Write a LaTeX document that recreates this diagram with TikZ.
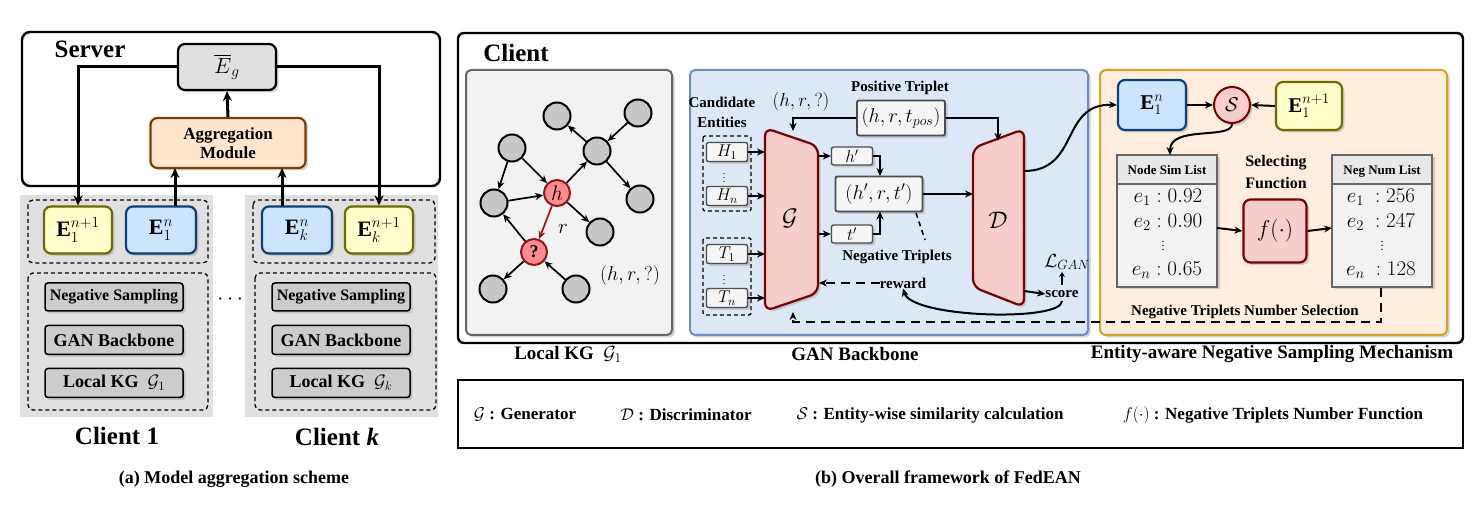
\RequirePackage{fix-cm}
\documentclass[tikz,border=0pt]{standalone}
\usepackage{fontspec}
\setmainfont{Liberation Serif}
\usepackage{amsmath,amssymb}
\usetikzlibrary{shadows,arrows.meta,calc}
\definecolor{ygf}{HTML}{FFFFCC}\definecolor{ygd}{HTML}{6B6B00}
\definecolor{blf}{HTML}{CCE5FF}\definecolor{bld}{HTML}{0E3E78}
\definecolor{rdf}{HTML}{F8CECC}\definecolor{rdd}{HTML}{7A0000}
\definecolor{orf}{HTML}{FFE6CC}\definecolor{ord}{HTML}{7A3D00}
\definecolor{gbf}{HTML}{DDE8F7}\definecolor{gbd}{HTML}{6C8EBF}
\definecolor{esf}{HTML}{FFEEDD}\definecolor{esd}{HTML}{D6A21E}
\newcommand{\fs}[1]{\fontsize{#1}{#1}\selectfont}
\tikzset{
 every node/.style={inner sep=0pt},
 sh/.style={drop shadow={shadow xshift=2.5pt,shadow yshift=-2.5pt,fill=black!30,opacity=0.6}},
 rb/.style={draw,rounded corners=7pt,line width=2.2pt,sh},
 yb/.style={rb,fill=ygf,draw=ygd},
 bb/.style={rb,fill=blf,draw=bld},
 gb/.style={draw,rounded corners=3pt,line width=1.5pt,fill=black!20,sh,font=\bfseries\fs{16}},
 sb/.style={draw=black!70,rounded corners=2pt,line width=1.4pt,fill=black!4,sh},
 ar/.style={-{Stealth[length=8pt,width=7pt]},line width=2pt},
 tar/.style={-{Stealth[length=10pt,width=9pt]},line width=3pt},
 gn/.style={circle,draw,line width=2pt,fill=black!22,minimum size=27pt},
 rn/.style={circle,draw=rdd!90,line width=2pt,fill=red!45,minimum size=27pt},
 dbox/.style={draw,dash pattern=on 4pt off 3pt,rounded corners=5pt,line width=1.3pt},
 thd/.style={dash pattern=on 9pt off 6pt},
}
\begin{document}
\begin{tikzpicture}[x=1pt,y=-1pt]
\useasboundingbox (0,0) rectangle (1476,510);
% ---------- (a) ----------
\draw[line width=2.4pt,rounded corners=8pt] (22,32) rectangle (440,186);
\node[font=\bfseries\fs{25}] (srv) at (90,49) {Server};
\fill[black!12] (20,195) rectangle (213,417);
\fill[black!12] (245,195) rectangle (438,417);
\node[rb,fill=black!12,draw=black,minimum width=98pt,minimum height=46pt,font=\fs{22}] (eg) at (227,67) {$\overline{E}_g$};
\node[rb,fill=orf,draw=ord,minimum width=155pt,minimum height=50pt,align=center,font=\bfseries\fs{17}] (agg) at (228,143) {Aggregation\\[2pt]Module};
\draw[tar] (agg.north) -- (eg.south);
\draw[dbox] (28,200) rectangle (208,263);
\draw[dbox] (28,273) rectangle (208,410);
\draw[dbox] (253,200) rectangle (435,263);
\draw[dbox] (255,273) rectangle (436,410);
\node[yb,minimum width=68pt,minimum height=47pt,font=\fs{22}] (e1a) at (78,230) {$\mathbf{E}_1^{n+1}$};
\node[bb,minimum width=70pt,minimum height=47pt,font=\fs{22}] (e1b) at (161,230) {$\mathbf{E}_1^{n}$};
\node[bb,minimum width=70pt,minimum height=47pt,font=\fs{22}] (ekb) at (297,230) {$\mathbf{E}_k^{n}$};
\node[yb,minimum width=68pt,minimum height=47pt,font=\fs{22}] (eka) at (379,230) {$\mathbf{E}_k^{n+1}$};
\draw[tar] (eg.west) -| (e1a.north);
\draw[tar] (eg.east) -| (eka.north);
\draw[tar] (175,206.5) -- (175,168);
\draw[tar] (282,206.5) -- (282,168);
\foreach \x/\s/\g in {114/1/a,341/k/b}{
 \node[gb,minimum width=138pt,minimum height=28pt] (ns\g) at (\x,297) {Negative Sampling};
 \node[gb,minimum width=138pt,minimum height=29pt,font=\bfseries\fs{18}] (gan\g) at (\x,340) {GAN Backbone};
 \node[gb,minimum width=138pt,minimum height=29pt,font=\bfseries\fs{18}] (lkg\g) at (\x,383) {Local KG \ $\mathcal{G}_\s$};
}
\node[font=\bfseries\fs{22}] (dots) at (232,300) {$\cdots$};
\node[font=\bfseries\fs{25}] (c1) at (117,436) {Client 1};
\node[font=\bfseries\fs{25}] (ck) at (337,437) {Client \textit{k}};
\node[font=\bfseries\fs{18}] (capa) at (234,479) {(a) Model aggregation scheme};
% ---------- (b) ----------
\draw[line width=2.4pt,rounded corners=6pt] (458,33) rectangle (1463,343);
\node[font=\bfseries\fs{25}] (cl) at (516,53) {Client};
\draw[rounded corners=5pt,line width=2pt,draw=black!60,fill=black!5,sh] (466,70) rectangle (672,335);
\node[font=\bfseries\fs{19}] (lkgl) at (568,354) {Local KG \ $\mathcal{G}_1$};
% graph
\node[gn] (a1) at (557,116) {};
\node[gn] (a2) at (638,113) {};
\node[gn] (a3) at (512,148) {};
\node[gn] (a4) at (597,151) {};
\node[rn,minimum size=26pt,font=\fs{21}] (h) at (557,193) {$h$};
\node[gn] (a5) at (494,203) {};
\node[gn] (a6) at (640,199) {};
\node[gn] (a7) at (600,232) {};
\node[rn,minimum size=26pt,font=\bfseries\fs{18}] (q) at (534,252) {?};
\node[gn] (a8) at (493,289) {};
\node[gn] (a9) at (576,289) {};
\begin{scope}[ar,line width=1.7pt]
\draw (a4) -- (a1); \draw (a2) -- (a4); \draw (a3) -- (h); \draw (a3) -- (a5);
\draw (a5) -- (h); \draw (h) -- (a4); \draw (a4) -- (a6); \draw (h) -- (a7);
\draw[rdd!90] (h) -- (q); \draw (q) -- (a5); \draw (q) -- (a8); \draw (a9) -- (q);
\end{scope}
\node[font=\fs{21}] (rl) at (563,229) {$r$};
\node[font=\fs{20}] (hrq1) at (630,276) {$(h,r,?)$};
% GAN backbone
\draw[rounded corners=5pt,line width=2pt,draw=gbd,fill=gbf,sh] (690,70) rectangle (1088,335);
\node[font=\bfseries\fs{19}] (ganl) at (855,354) {GAN Backbone};
\node[font=\bfseries\fs{15}] (cand1) at (722,102) {Candidate};
\node[font=\bfseries\fs{15}] (cand2) at (722,122) {Entities};
\node[font=\fs{19}] (hrq2) at (801,102) {$(h,r,?)$};
\node[font=\bfseries\fs{15}] (post) at (900,88) {Positive Triplet};
\node[sb,line width=1.9pt,minimum width=88pt,minimum height=35pt,font=\fs{20}] (pos) at (901,118) {$(h,r,t_{pos})$};
\draw[dbox,rounded corners=2pt] (703,136) rectangle (751,211);
\draw[dbox,rounded corners=2pt] (703,238) rectangle (751,315);
\node[sb,minimum width=41pt,minimum height=19pt,font=\fs{17}] (H1) at (727,152) {$H_1$};
\node[sb,minimum width=41pt,minimum height=19pt,font=\fs{17}] (Hn) at (727,196) {$H_n$};
\node[sb,minimum width=41pt,minimum height=19pt,font=\fs{17}] (T1) at (727,254) {$T_1$};
\node[sb,minimum width=41pt,minimum height=19pt,font=\fs{17}] (Tn) at (727,298) {$T_n$};
\node[font=\fs{10}] (vd1) at (724,175) {$\vdots$};
\node[font=\fs{10}] (vd2) at (724,277) {$\vdots$};
% Generator
\draw[line width=2.2pt,draw=rdd,fill=rdf,rounded corners=8pt,sh] (765,128) -- (818,146) -- (818,293) -- (765,311) -- cycle;
\node[font=\fs{24}] (G) at (790,218) {$\mathcal{G}$};
\foreach \n/\y in {H1/152,Hn/196,T1/254,Tn/298}{\draw[ar] (\n.east) -- (765,\y);}
\node[sb,minimum width=41pt,minimum height=18pt,font=\fs{17}] (hp) at (852,156) {$h'$};
\node[sb,minimum width=41pt,minimum height=18pt,font=\fs{17}] (tp) at (852,234) {$t'$};
\draw[ar] (818,156) -- (hp.west);
\draw[ar] (818,234) -- (tp.west);
\node[sb,line width=1.9pt,minimum width=87pt,minimum height=35pt,font=\fs{20}] (neg) at (879,194) {$(h',r,t')$};
\draw[ar] (hp.east) -| (880,176);
\draw[ar] (tp.east) -| (880,211.5);
\node[font=\bfseries\fs{15}] (negt) at (897,257) {Negative Triplets};
\draw[dash pattern=on 5pt off 4pt,line width=1.6pt] (916,213) -- (925,240);
% Discriminator
\draw[line width=2.2pt,draw=rdd,fill=rdf,rounded corners=8pt,sh] (973,148) -- (1024,129) -- (1024,307) -- (973,287) -- cycle;
\node[font=\fs{24}] (D) at (998,220) {$\mathcal{D}$};
\draw[ar] (neg.east) -- (973,194);
\draw[ar] (pos.east) -| (998,141);
\draw[ar] (pos.west) -| (793,131);
\node[font=\bfseries\fs{15}] (score) at (1062,294) {score};
\node[font=\fs{19}] (lgan) at (1067,262) {$\mathcal{L}_{GAN}$};
\draw[-{Stealth[length=5pt,width=6pt]},line width=2.4pt] (1062,285) -- (1062,272);
\draw[ar] (1024,291) -- (score.west);
\node[font=\bfseries\fs{15}] (rew) at (903,283) {reward};
\draw[ar,thd] (rew.west) -- (819,283);
\draw[ar] (1062,301) .. controls (1062,322) and (912,318) .. (rew.south);
% E-aware
\draw[rounded corners=6pt,line width=2pt,draw=esd,fill=esf,sh] (1100,70) rectangle (1447,335);
\node[font=\bfseries\fs{19}] (esl) at (1272,354) {Entity-aware Negative Sampling Mechanism};
\node[bb,minimum width=68pt,minimum height=50pt,font=\fs{21}] (E1n) at (1152,105) {$\mathbf{E}_1^{n}$};
\node[circle,draw=rdd,line width=2pt,fill=rdf,minimum size=36pt,font=\fs{20},sh] (S) at (1232,105) {$\mathcal{S}$};
\node[yb,minimum width=66pt,minimum height=48pt,font=\fs{21}] (E1a) at (1309,106) {$\mathbf{E}_1^{n+1}$};
\draw[ar] (E1n.east) -- (S.west);
\draw[ar] (E1a.west) -- (S.east);
\draw[ar] (1024,171) .. controls (1080,171) and (1060,103) .. (E1n.west);
% tables
\draw[line width=1.4pt,draw=black!60,fill=black!5,sh] (1117,155) rectangle (1217,287);
\draw[line width=1.4pt,draw=black!60,fill=black!9] (1117,155) rectangle (1217,184);
\node[font=\bfseries\fs{13}] (nsl) at (1167,170) {Node Sim List};
\node[font=\fs{21}] (s1) at (1168,197) {$e_1:0.92$};
\node[font=\fs{21}] (s2) at (1168,222) {$e_2:0.90$};
\node[font=\fs{12}] (s3) at (1163,243) {$\vdots$};
\node[font=\fs{21}] (s4) at (1167,270) {$e_n:0.65$};
\coordinate (simtop) at (1170,155);
\draw[ar] (S.south) .. controls (1232,140) and (1170,125) .. (simtop);
\draw[line width=1.4pt,draw=black!60,fill=black!5,sh] (1332,155) rectangle (1432,287);
\draw[line width=1.4pt,draw=black!60,fill=black!9] (1332,155) rectangle (1432,184);
\node[font=\bfseries\fs{13}] (nnl) at (1382,171) {Neg Num List};
\node[font=\fs{21}] (n1) at (1381,197) {$e_1\ :256$};
\node[font=\fs{21}] (n2) at (1381,222) {$e_2\ :247$};
\node[font=\fs{12}] (n3) at (1382,243) {$\vdots$};
\node[font=\fs{21}] (n4) at (1381,270) {$e_n\ :128$};
\node[font=\bfseries\fs{16}] (self1) at (1276,163) {Selecting};
\node[font=\bfseries\fs{16}] (self2) at (1276,183) {Function};
\node[draw=rdd,line width=2.2pt,fill=rdf,rounded corners=7pt,minimum width=63pt,minimum height=63pt,font=\fs{23},sh] (f) at (1275,231) {$f(\cdot)$};
\draw[ar] (1217,228) -- (f.west);
\draw[ar] (f.east) -- (1332,228);
\node[font=\bfseries\fs{15}] (ntns) at (1245,312) {Negative Triplets Number Selection};
\draw[ar,thd] (1381,288) -- (1381,322) -- (793,322) -- (793,312);
% legend
\draw[line width=2.2pt] (458,380) rectangle (1463,448);
\node[font=\bfseries\fs{17}] (l1) at (525,415) {$\mathcal{G}$ : Generator};
\node[font=\bfseries\fs{17}] (l2) at (686,415) {$\mathcal{D}$ : Discriminator};
\node[font=\bfseries\fs{17}] (l3) at (930,415) {$\mathcal{S}$ : Entity-wise similarity calculation};
\node[font=\bfseries\fs{17}] (l4) at (1273,415) {$f(\cdot)$ : Negative Triplets Number Function};
\node[font=\bfseries\fs{18}] (capb) at (948,479) {(b) Overall framework of FedEAN};
\end{tikzpicture}
\end{document}
